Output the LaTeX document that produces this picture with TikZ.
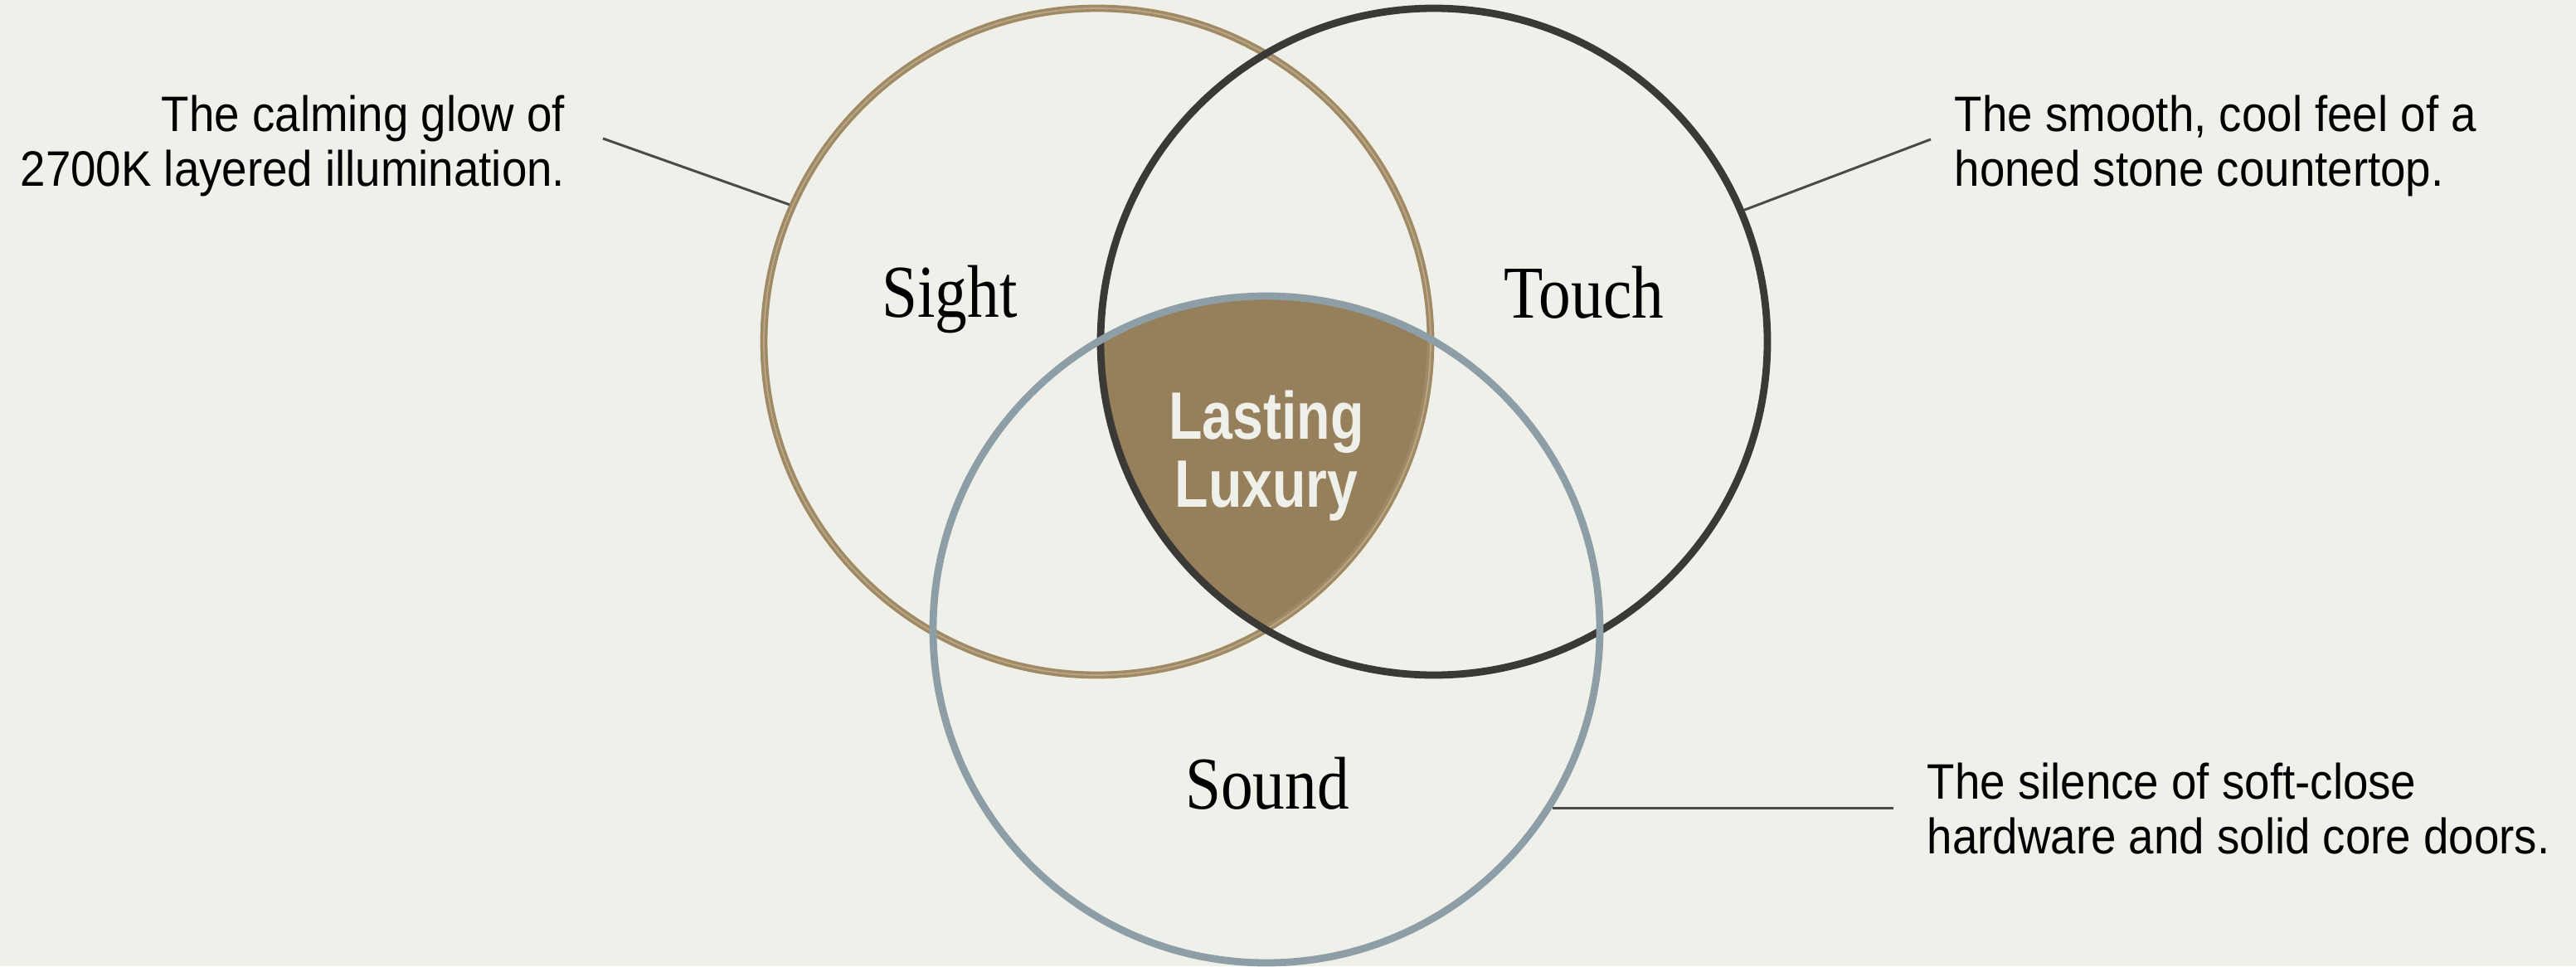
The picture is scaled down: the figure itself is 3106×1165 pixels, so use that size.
\documentclass[tikz,border=0pt]{standalone}
\usepackage{fontspec}
\setmainfont{Liberation Sans}[FakeStretch=0.91]
\newfontfamily\senseface{Liberation Serif}[FakeStretch=0.86]
\newfontfamily\coreface{Liberation Sans}[FakeStretch=0.82]
\definecolor{paper}{HTML}{F0F0EA}
\definecolor{sightc}{HTML}{A08A63}
\definecolor{touchc}{HTML}{3A3936}
\definecolor{soundc}{HTML}{8D9EA6}
\definecolor{corec}{HTML}{967F5B}
\definecolor{leadc}{HTML}{4A4A48}
\tikzset{
  ring/.style={circle, minimum size=80.4mm, inner sep=0pt, line width=2.5pt},
  sense/.style={font=\senseface\fontsize{25.6}{30}\selectfont, inner sep=0pt, anchor=base},
  note/.style={font=\fontsize{17.1}{18.9}\selectfont, inner sep=0pt},
  lead/.style={draw=leadc, line width=0.85pt},
}
\begin{document}
\begin{tikzpicture}[x=0.1mm, y=-0.1mm]
  \useasboundingbox[fill=paper] (0,0) rectangle (3106,1165);
  \coordinate (cs) at (1323,412);
  \coordinate (ct) at (1729,412);
  \coordinate (cd) at (1527,759);
  % shared part of the three senses
  \begin{scope}
    \clip (cs) circle (402);
    \clip (ct) circle (402);
    \fill[corec] (cd) circle (402);
  \end{scope}
  \node[ring, draw=sightc] (sight) at (cs) {};
  \draw[sightc!75!white, line width=0.5pt] (cs) circle (402);
  \node[ring, draw=touchc] (touch) at (ct) {};
  \node[ring, draw=soundc] (sound) at (cd) {};
  \path
    (1145,382) node[sense] (sightlbl) {Sight}
    (1910,383) node[sense] (touchlbl) {Touch}
    (1528,975) node[sense] (soundlbl) {Sound};
  \node[font=\coreface\bfseries\fontsize{23}{23.3}\selectfont, text=paper,
    align=center, inner sep=0pt, anchor=north] (core) at (1527,470) {Lasting\\Luxury};
  \node[note, align=right, anchor=north east] (sightnote) at (682,114)
    {The calming glow of\\2700K layered illumination.};
  \node[note, align=left, anchor=north west] (touchnote) at (2356,114)
    {The smooth, cool feel of a\\honed stone countertop.};
  \node[note, align=left, anchor=north west] (soundnote) at (2323,919)
    {The silence of soft-close\\hardware and solid core doors.};
  \coordinate (sightend) at (727,167);
  \coordinate (touchend) at (2328,168);
  \coordinate (soundend) at (2283,972);
  \draw[lead] (sightend) -- (sight.156.7);
  \draw[lead] (touchend) -- (touch.23.2);
  \draw[lead] (sound.-32) -- (sound.-32 -| soundend);
\end{tikzpicture}
\end{document}
